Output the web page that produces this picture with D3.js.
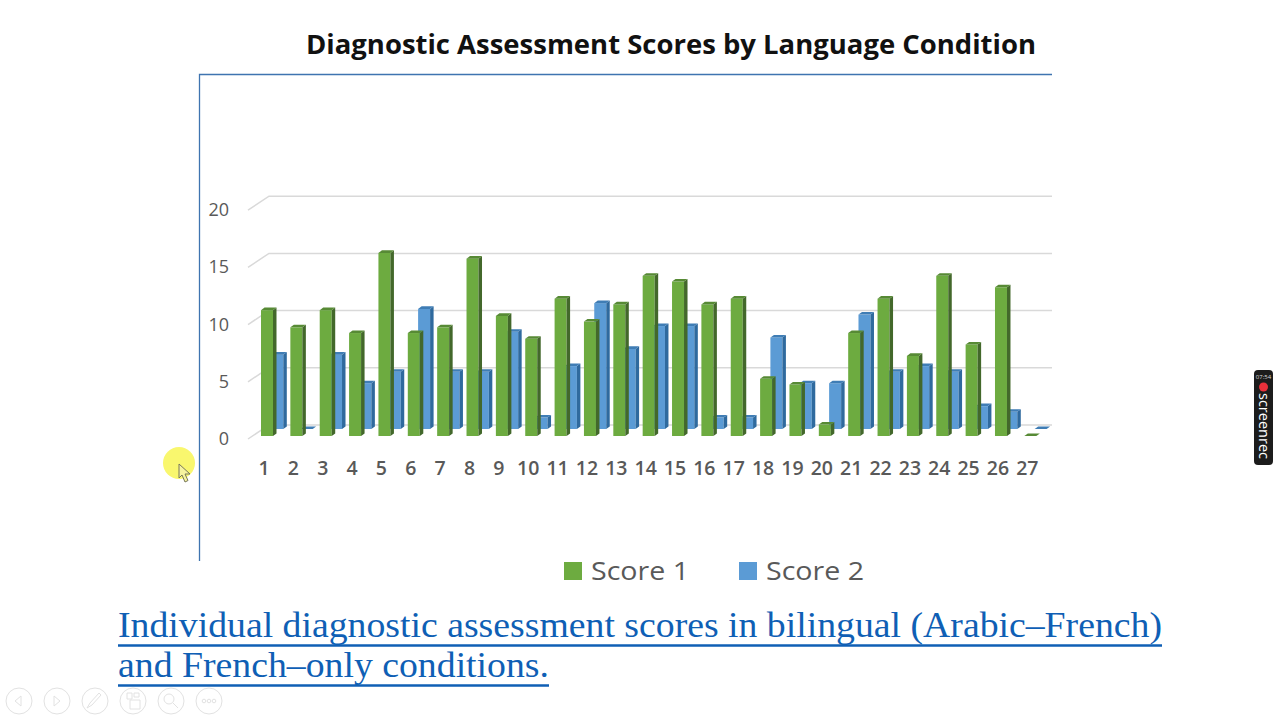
<!DOCTYPE html>
<html>
<head>
<meta charset="utf-8">
<script src="https://cdn.jsdelivr.net/npm/d3@7"></script>
<style>
  html, body { margin: 0; padding: 0; background: #fff; }
  svg { display: block; }
</style>
</head>
<body>
<svg width="1280" height="720"></svg>
<script>
const categories = ['1','2','3','4','5','6','7','8','9','10','11','12','13','14','15','16','17','18','19','20','21','22','23','24','25','26','27'];
const score1 = [11, 9.5, 11, 9, 16, 9, 9.5, 15.5, 10.5, 8.5, 12, 10, 11.5, 14, 13.5, 11.5, 12, 5, 4.5, 1, 9, 12, 7, 14, 8, 13, 0];
const score2 = [6.5, 0, 6.5, 4, 5, 10.5, 5, 5, 8.5, 1, 5.5, 11, 7, 9, 9, 1, 1, 8, 4, 4, 10, 5, 5.5, 5, 2, 1.5, 0];
const yTicks = [0, 5, 10, 15, 20];
const seriesNames = ['Score 1', 'Score 2'];
const captionLines = ['Individual diagnostic assessment scores in bilingual (Arabic\u2013French)', 'and French\u2013only conditions.'];

const svg = d3.select('svg');
const sansFont = '"Open Sans", "Noto Sans", sans-serif';

const xScale = d3.scaleBand().domain(categories).range([249.3, 1042]);
const yScale = d3.scaleLinear().domain([0, 20]).range([0, 228.8]); // height above the bar base

const barW = 12, depthX = 3.5, depthY = 2.6;
const greenBase = 436, blueBase = 429, backZero = 425;

// frame
svg.append('path')
  .attr('d', 'M199.5,561V74.5H1052')
  .attr('fill', 'none').attr('stroke', '#3f74b0').attr('stroke-width', 1.3);

svg.append('text').attr('x', 671).attr('y', 54).attr('text-anchor', 'middle')
  .attr('font-family', sansFont).attr('font-weight', 700).attr('font-size', 26.5)
  .attr('fill', '#111')
  .attr('textLength', 730).attr('lengthAdjust', 'spacingAndGlyphs')
  .text('Diagnostic Assessment Scores by Language Condition');

// gridlines
svg.selectAll('.grid').data(yTicks).enter().append('path')
  .attr('class', 'grid')
  .attr('d', d => {
    const y = backZero - yScale(d);
    return `M248,${y + 14}L269,${y}H1052`;
  })
  .attr('fill', 'none').attr('stroke', '#d9d9d9').attr('stroke-width', 1.5);

svg.selectAll('.ytick').data(yTicks).enter().append('text')
  .attr('class', 'ytick')
  .attr('x', 229).attr('y', d => greenBase + 9 - yScale(d))
  .attr('text-anchor', 'end')
  .attr('font-family', sansFont).attr('font-size', 18).attr('fill', '#595959')
  .text(d => d);

svg.selectAll('.xtick').data(categories).enter().append('text')
  .attr('class', 'xtick')
  .attr('x', d => xScale(d) + 14.7).attr('y', 474.5)
  .attr('text-anchor', 'middle')
  .attr('font-family', sansFont).attr('font-weight', 600).attr('font-size', 19.5).attr('fill', '#595959')
  .text(d => d);

function drawBars(values, offset, base, front, side, top) {
  const g = svg.append('g');
  const bars = g.selectAll('g').data(values).enter().append('g');
  const x0 = (d, i) => xScale(categories[i]) + offset;
  const yTop = d => base - yScale(d);
  bars.append('rect')
    .attr('x', x0).attr('y', yTop)
    .attr('width', barW).attr('height', d => yScale(d))
    .attr('fill', front);
  bars.append('path')
    .attr('d', (d, i) => {
      const x = x0(d, i) + barW, y = yTop(d);
      return `M${x},${y}L${x + depthX},${y - depthY}V${base - depthY}L${x},${base}Z`;
    })
    .attr('fill', side);
  bars.append('path')
    .attr('d', (d, i) => {
      const x = x0(d, i), y = yTop(d);
      return `M${x},${y}L${x + depthX},${y - depthY}H${x + barW + depthX}L${x + barW},${y}Z`;
    })
    .attr('fill', top);
}

drawBars(score2, 22, blueBase, '#5b9bd5', '#2f6a9e', '#3f7db5');
drawBars(score1, 11.7, greenBase, '#6dab40', '#43682b', '#578a35');

// legend
const legendX = [564, 739];
const legendColors = ['#6dab40', '#5b9bd5'];
seriesNames.forEach((name, i) => {
  svg.append('rect').attr('x', legendX[i]).attr('y', 562).attr('width', 18).attr('height', 18).attr('fill', legendColors[i]);
  svg.append('text').attr('x', legendX[i] + 27).attr('y', 580)
    .attr('font-family', sansFont).attr('font-size', 25).attr('fill', '#595959')
    .attr('textLength', 98).attr('lengthAdjust', 'spacingAndGlyphs').text(name);
});

// caption
const captionY = [637, 677];
const captionW = [1044, 431];
captionLines.forEach((line, i) => {
  svg.append('text').attr('x', 118).attr('y', captionY[i])
    .attr('font-family', '"Liberation Serif", serif').attr('font-size', 36)
    .attr('fill', '#0f5fb5')
    .attr('textLength', captionW[i]).attr('lengthAdjust', 'spacingAndGlyphs')
    .text(line);
  svg.append('line').attr('x1', 118).attr('x2', 118 + captionW[i])
    .attr('y1', captionY[i] + 8.5).attr('y2', captionY[i] + 8.5)
    .attr('stroke', '#0f5fb5').attr('stroke-width', 2.4);
});

// cursor highlight
svg.append('circle').attr('cx', 179).attr('cy', 463).attr('r', 16).attr('fill', '#f9f76e');
svg.append('path').attr('d', 'M179,464l0,14l3,-3l3,7l3,-1.5l-3,-6.5l5,0z')
  .attr('fill', '#f6f3a0').attr('stroke', '#77775a').attr('stroke-width', 1);

// slide show controls
const toolX = [19, 57, 95, 133, 171, 209];
const tools = svg.append('g').attr('fill', 'none').attr('stroke', '#e2e2e2').attr('stroke-width', 1);
tools.selectAll('circle').data(toolX).enter().append('circle')
  .attr('cx', d => d).attr('cy', 701).attr('r', 13);
tools.append('path').attr('d', 'M21,696l-6,5l6,5z');
tools.append('path').attr('d', 'M54,696l6,5l-6,5z');
tools.append('path').attr('d', 'M87,708l3,-5l9,-10l2,2l-9,10z');
tools.append('path').attr('d', 'M127,693h5v6h-5zM134,693h5v4h-5zM130,700h10v9h-10z');
tools.append('circle').attr('cx', 169).attr('cy', 699).attr('r', 5);
tools.append('path').attr('d', 'M173,703l5,5');
tools.selectAll('.dot').data([204, 209, 214]).enter().append('circle')
  .attr('class', 'dot').attr('cx', d => d).attr('cy', 701).attr('r', 1.8);

// screen recorder badge
svg.append('rect').attr('x', 1254).attr('y', 370).attr('width', 19).attr('height', 95).attr('rx', 4).attr('fill', '#1c1c1c');
svg.append('text').attr('x', 1263.5).attr('y', 379).attr('text-anchor', 'middle')
  .attr('font-family', sansFont).attr('font-size', 6).attr('fill', '#ddd').text('07:54');
svg.append('circle').attr('cx', 1263.5).attr('cy', 387).attr('r', 4.5).attr('fill', '#e8303a');
svg.append('text').attr('transform', 'translate(1258.5,393) rotate(90)')
  .attr('font-family', sansFont).attr('font-size', 14.5).attr('fill', '#fff').text('screenrec');
</script>
</body>
</html>
